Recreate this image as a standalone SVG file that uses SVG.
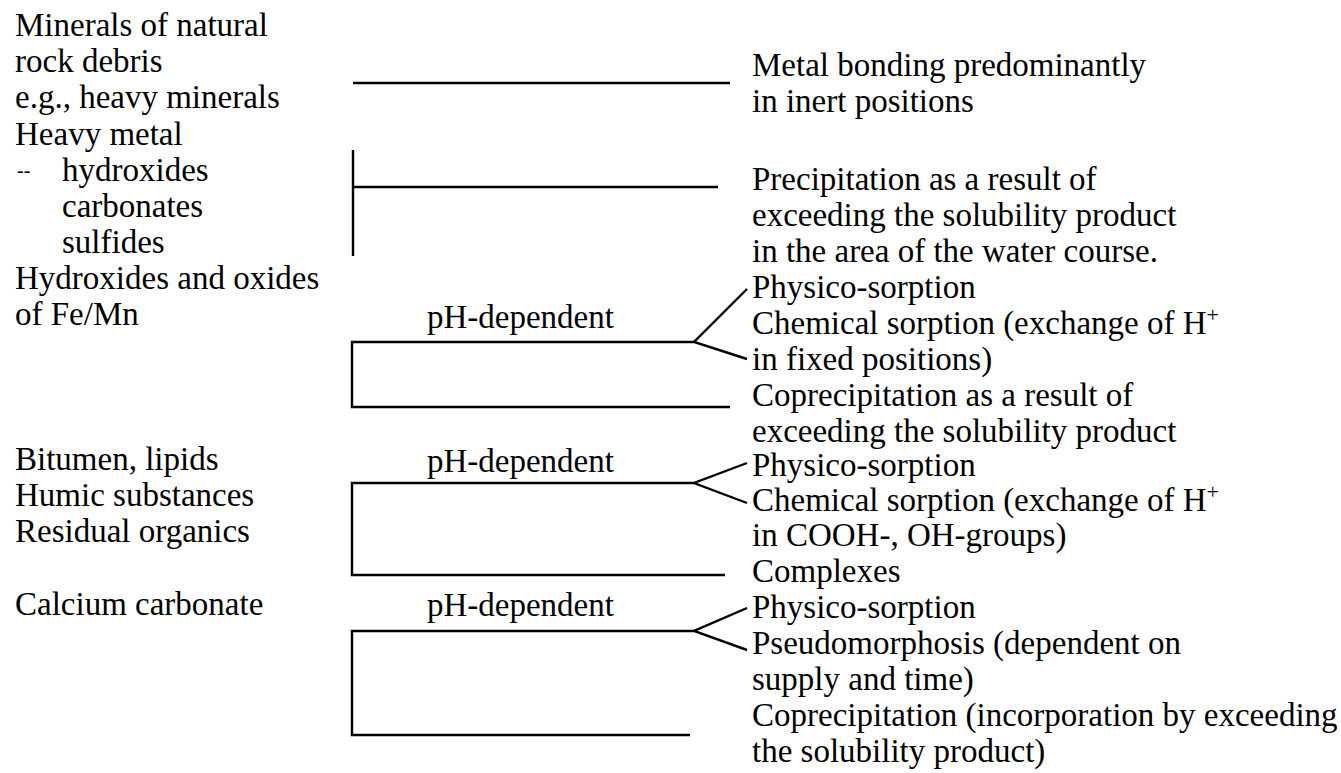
<svg xmlns="http://www.w3.org/2000/svg" width="1341" height="773" viewBox="0 0 1341 773">
<style>
text{font-family:"Liberation Serif","Times New Roman",serif;font-size:33px;fill:#000}
.c line,.c polyline{stroke:#000;stroke-width:2.4;fill:none;stroke-linecap:butt}
</style>
<rect width="1341" height="773" fill="#fff"/>
<g id="src-minerals">
<text x="15" y="36">Minerals of natural</text>
<text x="15" y="72">rock debris</text>
<text x="15" y="108">e.g., heavy minerals</text>
</g>
<g id="src-heavy-metal">
<text x="15" y="145">Heavy metal</text>
<text x="17" y="177" style="font-size:20px">--</text>
<text x="62" y="181">hydroxides</text>
<text x="62" y="217">carbonates</text>
<text x="62" y="253">sulfides</text>
</g>
<g id="src-fe-mn">
<text x="15" y="289">Hydroxides and oxides</text>
<text x="15" y="325">of Fe/Mn</text>
</g>
<g id="src-organics">
<text x="15" y="470">Bitumen, lipids</text>
<text x="15" y="506">Humic substances</text>
<text x="15" y="542">Residual organics</text>
</g>
<g id="src-calcium">
<text x="15" y="615">Calcium carbonate</text>
</g>
<g id="ph-labels">
<text x="427" y="328">pH-dependent</text>
<text x="427" y="472">pH-dependent</text>
<text x="427" y="616">pH-dependent</text>
</g>
<g id="res-inert">
<text x="752" y="76">Metal bonding predominantly</text>
<text x="752" y="112">in inert positions</text>
</g>
<g id="res-precipitation">
<text x="752" y="190">Precipitation as a result of</text>
<text x="752" y="226">exceeding the solubility product</text>
<text x="752" y="262">in the area of the water course.</text>
</g>
<g id="res-fe-sorption">
<text x="752" y="298">Physico-sorption</text>
<text x="752" y="334">Chemical sorption (exchange of H<tspan dy="-12" style="font-size:22px">+</tspan></text>
<text x="752" y="370">in fixed positions)</text>
</g>
<g id="res-fe-copre">
<text x="752" y="406">Coprecipitation as a result of</text>
<text x="752" y="442">exceeding the solubility product</text>
</g>
<g id="res-org-sorption">
<text x="752" y="476">Physico-sorption</text>
<text x="752" y="511">Chemical sorption (exchange of H<tspan dy="-12" style="font-size:22px">+</tspan></text>
<text x="752" y="546">in COOH-, OH-groups)</text>
</g>
<g id="res-complexes">
<text x="752" y="582">Complexes</text>
</g>
<g id="res-ca-sorption">
<text x="752" y="618">Physico-sorption</text>
<text x="752" y="654">Pseudomorphosis (dependent on</text>
<text x="752" y="690">supply and time)</text>
</g>
<g id="res-ca-copre">
<text x="752" y="726">Coprecipitation (incorporation by exceeding</text>
<text x="752" y="762">the solubility product)</text>
</g>
<g id="connectors" class="c">
<line x1="353" y1="83" x2="730" y2="83"/>
<line x1="353" y1="150" x2="353" y2="256"/>
<line x1="353" y1="187" x2="718" y2="187"/>
<polyline points="694,342 352,342 352,407 730,407"/>
<polyline points="747,289 694,342 747,359"/>
<polyline points="694,483 352,483 352,575 725,575"/>
<polyline points="747,463 694,483 747,503"/>
<polyline points="694,631 352,631 352,735 690,735"/>
<polyline points="747,608 694,631 747,650"/>
</g>
</svg>
